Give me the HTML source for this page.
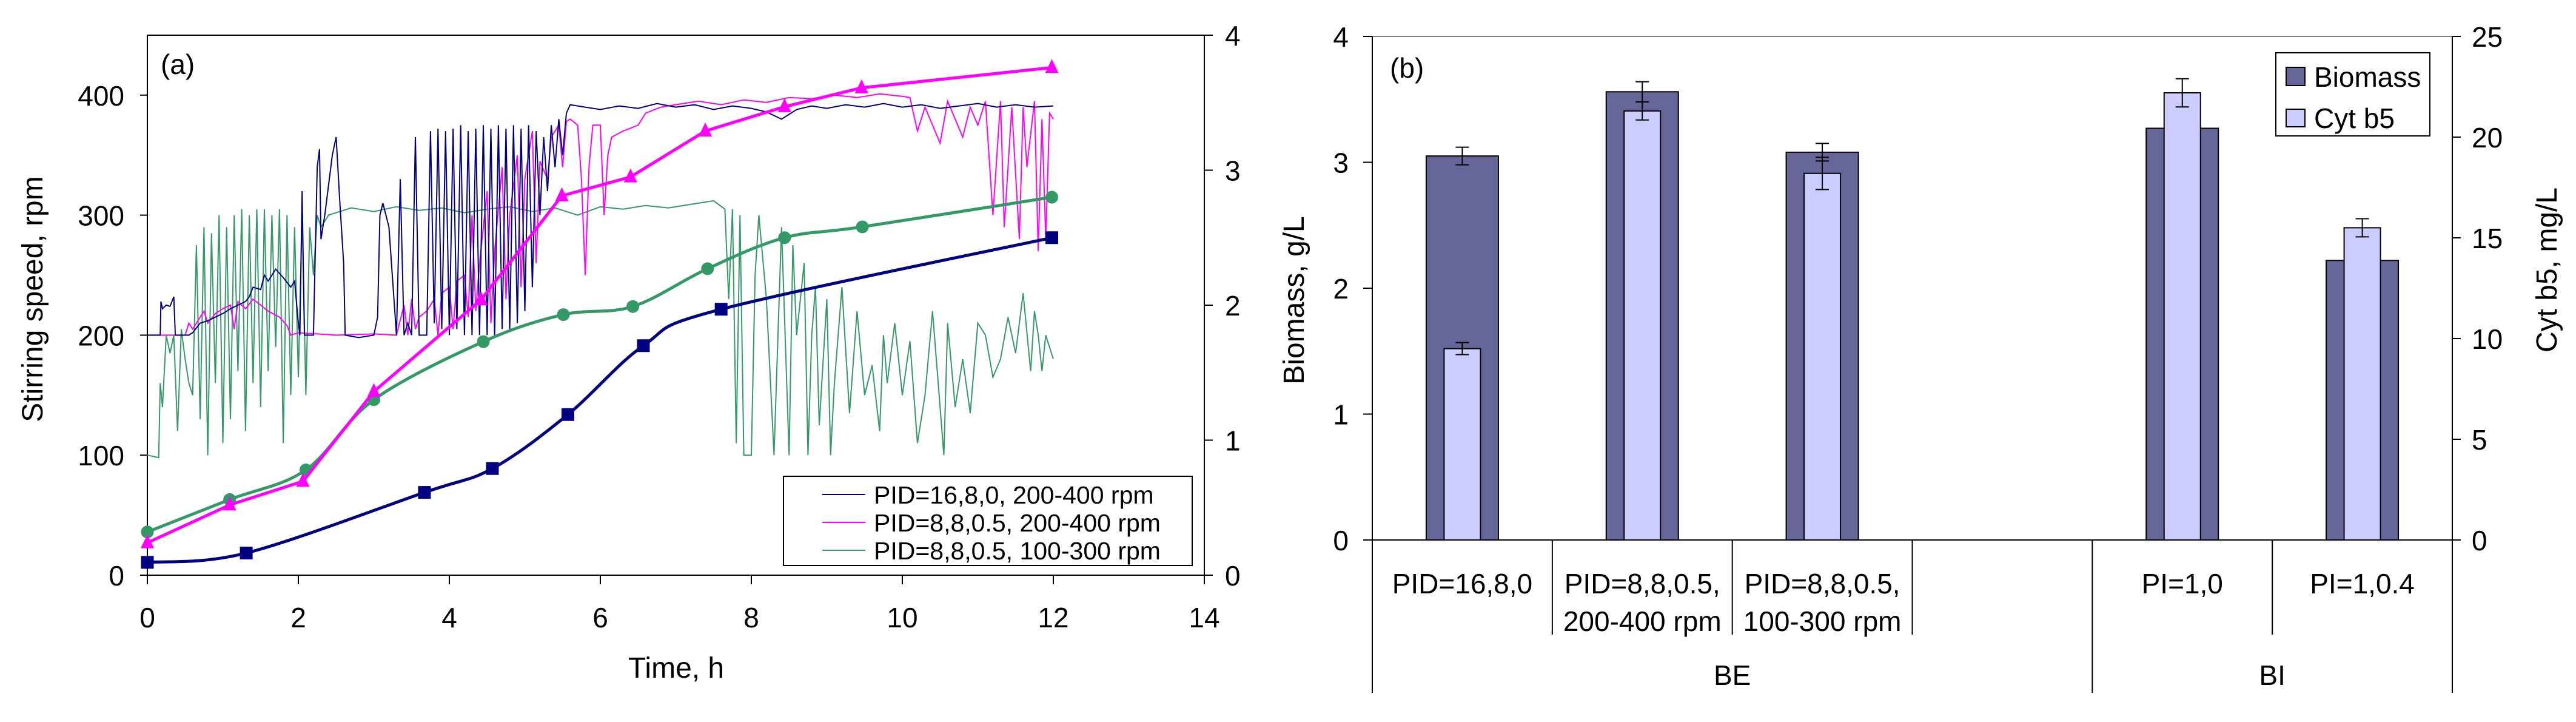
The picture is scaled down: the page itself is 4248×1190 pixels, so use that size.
<!DOCTYPE html>
<html><head><meta charset="utf-8">
<style>
html,body{margin:0;padding:0;background:#fff;}
svg{display:block;font-family:"Liberation Sans",Arial,sans-serif;}
</style></head>
<body>
<svg id="fig" width="4248" height="1190" viewBox="0 0 4248 1190" xmlns="http://www.w3.org/2000/svg">
<g id="chartA"></g>
<g id="chartB"></g>
</svg>
<script>
// ---------- Chart (a) data ----------
const biomassBlueT = [0,1.31,3.67,4.57,5.57,6.57,7.6,11.98];
const biomassBlueV = [0.095,0.164,0.613,0.79,1.19,1.70,1.97,2.50];
const biomassMagT = [0,1.09,2.06,3.0,4.42,5.49,6.4,7.39,8.44,9.46,11.98];
const biomassMagV = [0.24,0.52,0.695,1.36,2.04,2.81,2.95,3.29,3.47,3.61,3.76];
const biomassGreenT = [0,1.09,2.10,3.0,4.45,5.51,6.43,7.42,8.44,9.47,11.98];
const biomassGreenV = [0.32,0.56,0.78,1.30,1.73,1.93,1.99,2.27,2.50,2.58,2.80];

const stirBlue = [[0,200],[0.17,200],[0.18,228],[0.2,222],[0.25,225],[0.3,224],[0.35,232],[0.37,200],[0.55,200],[0.6,202],[0.7,210],[0.8,212],[0.9,215],[1.0,218],[1.1,222],[1.2,225],[1.3,228],[1.35,232],[1.4,240],[1.5,238],[1.55,250],[1.6,245],[1.7,255],[1.8,248],[1.9,240],[1.95,245],[2.0,210],[2.02,200],[2.05,320],[2.08,200],[2.2,200],[2.25,340],[2.28,355],[2.3,280],[2.35,300],[2.45,350],[2.5,365],[2.55,310],[2.6,260],[2.62,200],[2.8,198],[3.0,200],[3.05,215],[3.08,300],[3.12,310],[3.2,290],[3.3,200],[3.35,330],[3.4,200],[3.45,210],[3.5,200],[3.55,365],[3.6,200],[3.7,200],[3.75,370],[3.8,210],[3.85,372],[3.9,205],[3.95,370],[4.0,200],[4.05,372],[4.1,205],[4.15,375],[4.2,200],[4.25,370],[4.3,200],[4.35,372],[4.4,200],[4.45,375],[4.5,200],[4.55,372],[4.6,200],[4.65,375],[4.7,205],[4.75,372],[4.8,205],[4.85,375],[4.9,210],[4.95,372],[5.0,220],[5.05,375],[5.1,240],[5.15,370],[5.2,300],[5.25,365],[5.3,320],[5.35,375],[5.4,340],[5.45,380],[5.5,350],[5.55,385],[5.6,392],[5.8,390],[6.0,388],[6.25,391],[6.5,389],[6.75,393],[7.0,390],[7.25,392],[7.5,388],[7.75,391],[8.0,389],[8.2,386],[8.4,380],[8.6,388],[8.8,391],[9.0,389],[9.25,392],[9.5,390],[9.75,393],[10.0,390],[10.25,392],[10.5,389],[10.75,391],[11.0,393],[11.25,390],[11.5,392],[11.75,390],[12.0,391]];
const stirMag = [[0,200],[0.5,200],[0.55,210],[0.6,205],[0.7,215],[0.75,220],[0.8,210],[0.9,218],[1.0,222],[1.1,225],[1.15,205],[1.2,228],[1.3,222],[1.4,230],[1.5,225],[1.6,220],[1.75,215],[1.85,208],[1.9,200],[2.0,202],[2.5,200],[3.0,201],[3.3,200],[3.4,225],[3.45,200],[3.5,230],[3.55,205],[3.6,215],[3.7,220],[3.8,230],[3.85,200],[3.9,235],[4.0,240],[4.05,205],[4.1,245],[4.2,250],[4.25,215],[4.3,300],[4.35,220],[4.4,260],[4.5,320],[4.55,210],[4.6,270],[4.7,340],[4.75,230],[4.8,300],[4.9,350],[4.95,240],[5.0,330],[5.1,370],[5.15,260],[5.2,345],[5.3,330],[5.35,365],[5.45,375],[5.5,340],[5.55,378],[5.6,380],[5.7,375],[5.75,330],[5.8,250],[5.85,340],[5.9,375],[6.0,375],[6.05,300],[6.1,350],[6.15,365],[6.3,370],[6.5,375],[6.6,385],[6.8,390],[7.0,392],[7.3,395],[7.6,392],[7.9,396],[8.2,394],[8.5,398],[8.8,397],[9.1,400],[9.4,398],[9.7,401],[10.0,399],[10.1,398],[10.2,370],[10.3,390],[10.5,360],[10.6,395],[10.8,365],[10.9,390],[11.0,375],[11.1,395],[11.2,300],[11.3,395],[11.35,290],[11.45,390],[11.55,280],[11.6,390],[11.65,340],[11.75,395],[11.8,270],[11.85,380],[11.9,280],[11.95,385],[12.0,380]];
const stirGreen = [[0,100],[0.15,98],[0.17,160],[0.2,140],[0.25,200],[0.3,185],[0.35,200],[0.4,120],[0.45,205],[0.5,180],[0.55,160],[0.6,150],[0.65,275],[0.7,130],[0.75,290],[0.8,100],[0.85,285],[0.9,160],[0.95,300],[1.0,110],[1.05,290],[1.1,130],[1.15,300],[1.2,170],[1.25,305],[1.3,120],[1.35,300],[1.4,160],[1.45,305],[1.5,140],[1.55,305],[1.6,170],[1.65,300],[1.7,190],[1.75,305],[1.8,110],[1.85,300],[1.9,150],[1.95,290],[2.0,165],[2.05,300],[2.1,150],[2.15,290],[2.2,250],[2.25,300],[2.3,290],[2.4,300],[2.7,306],[3.0,303],[3.3,307],[3.6,304],[3.9,306],[4.2,302],[4.5,305],[4.8,307],[5.1,303],[5.4,306],[5.7,300],[6.0,307],[6.3,305],[6.6,308],[6.9,306],[7.2,309],[7.5,312],[7.65,305],[7.7,230],[7.75,305],[7.8,110],[7.85,300],[7.9,100],[8.0,100],[8.05,250],[8.1,300],[8.2,230],[8.3,100],[8.4,290],[8.5,100],[8.55,275],[8.6,200],[8.7,260],[8.75,100],[8.8,200],[8.85,240],[8.9,125],[9.0,230],[9.05,100],[9.1,160],[9.2,240],[9.3,135],[9.4,220],[9.5,150],[9.6,175],[9.7,120],[9.75,200],[9.8,160],[9.9,210],[10.0,150],[10.1,195],[10.2,110],[10.3,150],[10.4,220],[10.5,140],[10.55,100],[10.6,210],[10.7,140],[10.8,180],[10.9,135],[11.0,210],[11.1,200],[11.2,165],[11.3,180],[11.4,215],[11.5,185],[11.6,235],[11.7,170],[11.75,220],[11.8,200],[11.85,170],[11.9,200],[12.0,180]];

const xTicksA = [0,2,4,6,8,10,12,14];
const yTicksA = [0,100,200,300,400];
const y2TicksA = [0,1,2,3,4];

// ---------- Chart (b) data ----------
const catLine1 = ["PID=16,8,0","PID=8,8,0.5,","PID=8,8,0.5,","","PI=1,0","PI=1,0.4"];
const catLine2 = ["","200-400 rpm","100-300 rpm","","",""];
const biomassVals = [3.05,3.56,3.08,null,3.27,2.22];
const biomassErr = [0.07,0.08,0.07,null,0,0];
const cytVals = [9.5,21.3,18.2,null,22.2,15.5];
const cytErr = [0.3,0.45,0.8,null,0.7,0.45];
const yTicksB = [0,1,2,3,4];
const y2TicksB = [0,5,10,15,20,25];

const NS="http://www.w3.org/2000/svg";
function mk(parent,tag,attrs,text){const e=document.createElementNS(NS,tag);for(const k in attrs)e.setAttribute(k,attrs[k]);if(text!==undefined)e.textContent=text;parent.appendChild(e);return e;}

// ===== Chart A =====
(function(){
const g=document.getElementById('chartA');
const X0=243, PX=124.5, Y0=948, PY_RPM=1.978, PY_BIO=222.5, TOP=58, RIGHT=1986;
const xs=t=>X0+t*PX, yr=r=>Y0-r*PY_RPM, yb=b=>Y0-b*PY_BIO;
let e;
e=mk(g,'line',{x1:X0,y1:TOP,x2:RIGHT,y2:TOP,stroke:'#000','stroke-width':2});


e=mk(g,'line',{x1:X0,y1:TOP,x2:X0,y2:Y0,stroke:'#000','stroke-width':2});


e=mk(g,'line',{x1:RIGHT,y1:TOP,x2:RIGHT,y2:Y0,stroke:'#000','stroke-width':2});


e=mk(g,'line',{x1:X0,y1:Y0,x2:RIGHT,y2:Y0,stroke:'#000','stroke-width':2});


xTicksA.forEach(t=>{
  e=mk(g,'line',{x1:xs(t),y1:Y0,x2:xs(t),y2:Y0+15,stroke:'#000','stroke-width':2});
  
  
  e=mk(g,'text',{x:xs(t),y:Y0+86,'font-size':46,'text-anchor':'middle'},String(t));
  
  
});
yTicksA.forEach(v=>{
  e=mk(g,'line',{x1:X0-12,y1:yr(v),x2:X0,y2:yr(v),stroke:'#000','stroke-width':2});
  
  
  e=mk(g,'text',{x:205,y:yr(v)+17,'font-size':46,'text-anchor':'end'},String(v));
  
  
});
y2TicksA.forEach(v=>{
  e=mk(g,'line',{x1:RIGHT,y1:yb(v),x2:RIGHT+14,y2:yb(v),stroke:'#000','stroke-width':2});
  
  
  e=mk(g,'text',{x:2020,y:yb(v)+17,'font-size':46,'text-anchor':'start'},String(v));
  
  
});
e=mk(g,'text',{x:0,y:0,'font-size':48,'text-anchor':'middle',transform:'translate(70,493) rotate(-90)'},'Stirring speed, rpm');


e=mk(g,'text',{x:1115,y:1117,'font-size':48,'text-anchor':'middle'},'Time, h');


e=mk(g,'text',{x:265,y:122,'font-size':46},'(a)');



function trace(arr,color,name){
  const d=arr.map((p,i)=>(i?'L':'M')+xs(p[0]).toFixed(1)+' '+yr(p[1]).toFixed(1)).join(' ');
  const el=mk(g,'path',{d:d,fill:'none',stroke:color,'stroke-width':2});
  
  
}
trace(stirGreen,'#339966','stirring-trace-pid-8-8-0.5-100-300');
trace(stirMag,'#ff00ff','stirring-trace-pid-8-8-0.5-200-400');
trace(stirBlue,'#000080','stirring-trace-pid-16-8-0');

function smoothPath(px,py){
  let d='M'+px[0]+' '+py[0];
  for(let i=0;i<px.length-1;i++){
    const x0=px[Math.max(i-1,0)],y0=py[Math.max(i-1,0)],x1=px[i],y1=py[i],x2=px[i+1],y2=py[i+1],x3=px[Math.min(i+2,px.length-1)],y3=py[Math.min(i+2,px.length-1)];
    const c1x=x1+(x2-x0)/6,c1y=y1+(y2-y0)/6,c2x=x2-(x3-x1)/6,c2y=y2-(y3-y1)/6;
    d+=` C${c1x.toFixed(1)} ${c1y.toFixed(1)} ${c2x.toFixed(1)} ${c2y.toFixed(1)} ${x2.toFixed(1)} ${y2.toFixed(1)}`;
  }
  return d;
}
function bioSeries(T,V,color,smooth,marker,name){
  const px=T.map(xs), py=V.map(yb);
  const d=smooth?smoothPath(px,py):px.map((x,i)=>(i?'L':'M')+x+' '+py[i]).join(' ');
  let el=mk(g,'path',{d:d,fill:'none',stroke:color,'stroke-width':5});
  
  
  px.forEach((x,i)=>{
    const y=py[i];
    let m;
    if(marker==='square') m=mk(g,'rect',{x:x-10.5,y:y-10.5,width:21,height:21,fill:color});
    else if(marker==='circle') m=mk(g,'circle',{cx:x,cy:y,r:10.5,fill:color});
    else m=mk(g,'polygon',{points:`${x},${y-14} ${x-11},${y+9} ${x+11},${y+9}`,fill:color});
    
    
  });
}
bioSeries(biomassBlueT,biomassBlueV,'#000080',true,'square','biomass-pid-16-8-0');
bioSeries(biomassGreenT,biomassGreenV,'#339966',true,'circle','biomass-pid-8-8-0.5-100-300');
bioSeries(biomassMagT,biomassMagV,'#ff00ff',false,'triangle','biomass-pid-8-8-0.5-200-400');

// legend
const lg=mk(g,'g',{});


mk(lg,'rect',{x:1292,y:785,width:674,height:147,fill:'#fff',stroke:'#000','stroke-width':2});
const labs=['PID=16,8,0, 200-400 rpm','PID=8,8,0.5, 200-400 rpm','PID=8,8,0.5, 100-300 rpm'];
const cols=['#000080','#ff00ff','#339966'];
const ly=[815,861,907];
labs.forEach((l,i)=>{
  const ent=mk(lg,'g',{});
  
  
  mk(ent,'line',{x1:1356,y1:ly[i],x2:1427,y2:ly[i],stroke:cols[i],'stroke-width':2});
  mk(ent,'text',{x:1441,y:ly[i]+15,'font-size':41},l);
});
})();

// ===== Chart B =====
(function(){
const g=document.getElementById('chartB');
const L=2263,R=4044,TOP=60,Y0=890,CW=(R-L)/6;
const yb=v=>Y0-v*(Y0-TOP)/4, yc=v=>Y0-v*(Y0-TOP)/25, cx=i=>L+CW*(i+0.5);
let e;
e=mk(g,'line',{x1:L,y1:TOP,x2:R,y2:TOP,stroke:'#808080','stroke-width':2});


e=mk(g,'line',{x1:L,y1:TOP,x2:L,y2:1142,stroke:'#000','stroke-width':2});


e=mk(g,'line',{x1:R,y1:TOP,x2:R,y2:1142,stroke:'#000','stroke-width':2});


e=mk(g,'line',{x1:L-15,y1:Y0,x2:R,y2:Y0,stroke:'#000','stroke-width':2});


yTicksB.forEach(v=>{
  e=mk(g,'line',{x1:L-15,y1:yb(v),x2:L,y2:yb(v),stroke:'#000','stroke-width':2});
  
  
  e=mk(g,'text',{x:2224,y:yb(v)+17,'font-size':46,'text-anchor':'end'},String(v));
  
  
});
y2TicksB.forEach(v=>{
  e=mk(g,'line',{x1:R,y1:yc(v),x2:R+14,y2:yc(v),stroke:'#000','stroke-width':2});
  
  
  e=mk(g,'text',{x:4076,y:yc(v)+17,'font-size':46,'text-anchor':'start'},String(v));
  
  
});
// separators
[1,2,3,5].forEach(k=>{
  e=mk(g,'line',{x1:L+CW*k,y1:Y0,x2:L+CW*k,y2:1046,stroke:'#000','stroke-width':2});
  
  
});
e=mk(g,'line',{x1:L+CW*4,y1:Y0,x2:L+CW*4,y2:1142,stroke:'#000','stroke-width':2});


// bars
catLine1.forEach((c,i)=>{
  const x=cx(i);
  if(biomassVals[i]!==null){
    e=mk(g,'rect',{x:x-59.5,y:yb(biomassVals[i]),width:119,height:Y0-yb(biomassVals[i]),fill:'#666699',stroke:'#000','stroke-width':2});
    
    
  }
  if(cytVals[i]!==null){
    e=mk(g,'rect',{x:x-30,y:yc(cytVals[i]),width:60,height:Y0-yc(cytVals[i]),fill:'#ccccff',stroke:'#000','stroke-width':2});
    
    
  }
  if(biomassErr[i]){
    const a=yb(biomassVals[i]+biomassErr[i]),b=yb(biomassVals[i]-biomassErr[i]);
    e=mk(g,'path',{d:`M${x} ${a}V${b}M${x-11} ${a}h22M${x-11} ${b}h22`,stroke:'#000','stroke-width':2,fill:'none'});
    
    
  }
  if(cytErr[i]){
    const a=yc(cytVals[i]+cytErr[i]),b=yc(cytVals[i]-cytErr[i]);
    e=mk(g,'path',{d:`M${x} ${a}V${b}M${x-11} ${a}h22M${x-11} ${b}h22`,stroke:'#000','stroke-width':2,fill:'none'});
    
    
  }
  if(c){
    e=mk(g,'text',{x:x,y:978,'font-size':46,'text-anchor':'middle'},c);
    
    
  }
  if(catLine2[i]){
    e=mk(g,'text',{x:x,y:1040,'font-size':46,'text-anchor':'middle'},catLine2[i]);
    
    
  }
});
e=mk(g,'text',{x:L+CW*2,y:1129,'font-size':46,'text-anchor':'middle'},'BE');


e=mk(g,'text',{x:L+CW*5,y:1129,'font-size':46,'text-anchor':'middle'},'BI');


e=mk(g,'text',{x:2292,y:128,'font-size':46},'(b)');


e=mk(g,'text',{x:0,y:0,'font-size':48,'text-anchor':'middle',transform:'translate(2150,495) rotate(-90)'},'Biomass, g/L');


e=mk(g,'text',{x:0,y:0,'font-size':48,'text-anchor':'middle',transform:'translate(4216,445) rotate(-90)'},'Cyt b5, mg/L');


// legend
const lg=mk(g,'g',{});


mk(lg,'rect',{x:3753,y:87,width:254,height:137,fill:'#fff',stroke:'#000','stroke-width':2});
const e1=mk(lg,'g',{});


mk(e1,'rect',{x:3770,y:111,width:31,height:30,fill:'#666699',stroke:'#000','stroke-width':2});
mk(e1,'text',{x:3816,y:143,'font-size':46},'Biomass');
const e2=mk(lg,'g',{});


mk(e2,'rect',{x:3770,y:180,width:31,height:29,fill:'#ccccff',stroke:'#000','stroke-width':2});
mk(e2,'text',{x:3816,y:211,'font-size':46},'Cyt b5');
})();
</script>
</body></html>
